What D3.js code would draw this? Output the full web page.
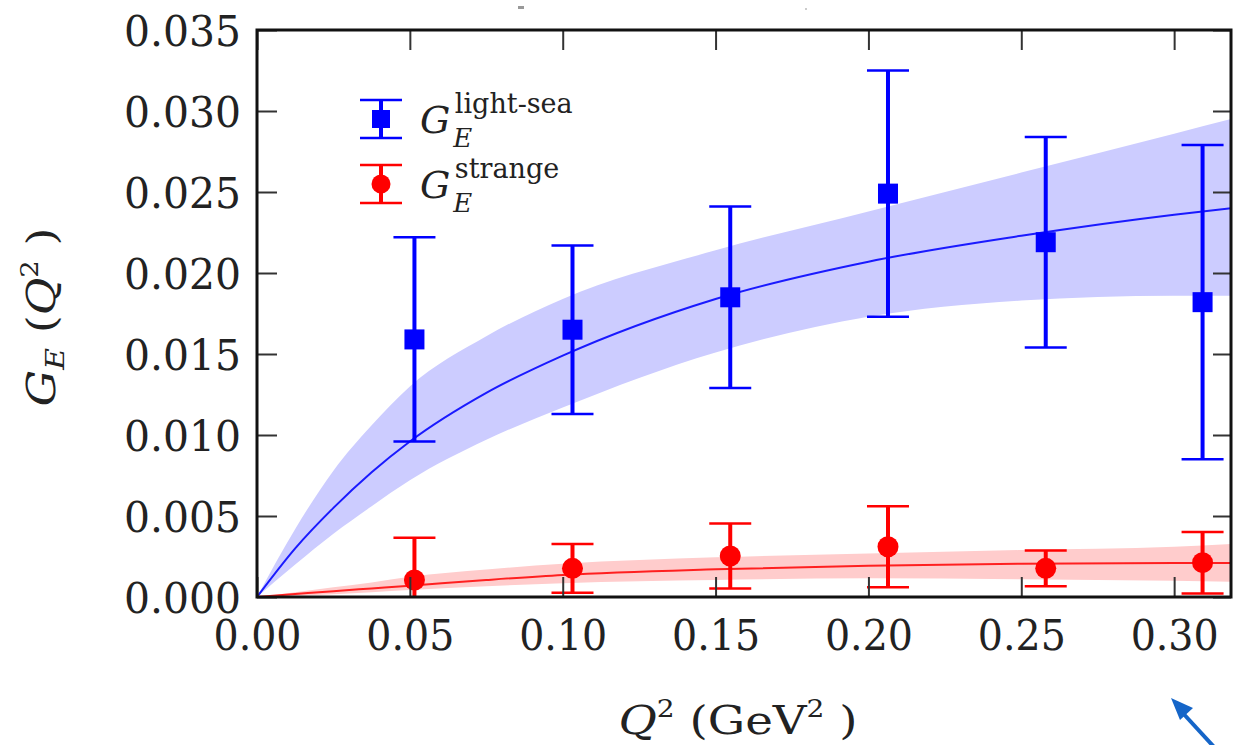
<!DOCTYPE html>
<html><head><meta charset="utf-8">
<script src="https://cdn.jsdelivr.net/npm/d3@7"></script>
<style>
html,body{margin:0;padding:0;background:#fff;}
svg{display:block;}
text{font-family:"DejaVu Serif",serif;fill:#222;}
</style></head>
<body>
<svg id="chart" width="1233" height="745"></svg>
<script>
// ---- data ----
const q2Points = [0.0515, 0.1032, 0.1548, 0.2064, 0.258, 0.3093];
const lightSea = [0.0159, 0.0165, 0.0185, 0.0249, 0.0219, 0.0182];
const lightSeaErr = [0.0063, 0.0052, 0.0056, 0.0076, 0.0065, 0.0097];
const strange = [0.00105, 0.00177, 0.00253, 0.0031, 0.00177, 0.00212];
const strangeErr = [0.0026, 0.0015, 0.002, 0.0025, 0.0011, 0.0019];

const q2Fit = [0, 0.0125, 0.025, 0.0375, 0.05, 0.075, 0.1, 0.15, 0.2, 0.25, 0.3, 0.3186];
const lightFit = [0, 0.0030, 0.0055, 0.0077, 0.0096, 0.0126, 0.0149, 0.0184, 0.0207, 0.0223, 0.0236, 0.0240];
const lightFitHi = [0, 0.0042, 0.0078, 0.0106, 0.0130, 0.0161, 0.0184, 0.0214, 0.0238, 0.0262, 0.0286, 0.0295];
const lightFitLo = [0, 0.0020, 0.0039, 0.0056, 0.0072, 0.0097, 0.0117, 0.0151, 0.0173, 0.0183, 0.0186, 0.0186];
const strangeFit = [0, 0.00018, 0.00036, 0.00053, 0.0007, 0.00105, 0.00136, 0.00171, 0.00193, 0.00206, 0.0021, 0.0021];
const strangeFitHi = [0, 0.0003, 0.0006, 0.0009, 0.00125, 0.0017, 0.00205, 0.00245, 0.00268, 0.0029, 0.0031, 0.00327];
const strangeFitLo = [0, 0.00008, 0.00017, 0.0003, 0.00043, 0.00066, 0.00085, 0.00105, 0.00115, 0.0011, 0.001, 0.00094];

const xTicks = [0, 0.05, 0.10, 0.15, 0.20, 0.25, 0.30];
const yTicks = [0, 0.005, 0.010, 0.015, 0.020, 0.025, 0.030, 0.035];
const xDomain = [0, 0.3186];
const yDomain = [0, 0.035];
const seriesNames = ["light-sea", "strange"];

// ---- layout ----
const L = 257, R = 1231, T = 30, B = 597;
const svg = d3.select("#chart");
const x = d3.scaleLinear().domain(xDomain).range([L, R]);
const y = d3.scaleLinear().domain(yDomain).range([B, T]);

svg.append("defs").append("clipPath").attr("id","clip")
  .append("rect").attr("x",L).attr("y",T).attr("width",R-L).attr("height",B-T);

const plot = svg.append("g").attr("clip-path","url(#clip)");

function band(lo, hi, color) {
  const data = q2Fit.map((q,i)=>({q, lo:lo[i], hi:hi[i]}));
  plot.append("path").datum(data)
    .attr("fill", color).attr("stroke","none")
    .attr("d", d3.area().curve(d3.curveMonotoneX)
      .x(d=>x(d.q)).y0(d=>y(d.lo)).y1(d=>y(d.hi)));
}
function line(vals, color) {
  const data = q2Fit.map((q,i)=>({q, v:vals[i]}));
  plot.append("path").datum(data)
    .attr("fill","none").attr("stroke",color).attr("stroke-width",2)
    .attr("d", d3.line().curve(d3.curveMonotoneX).x(d=>x(d.q)).y(d=>y(d.v)));
}
band(lightFitLo, lightFitHi, "#ccccff");
line(lightFit, "#1a1aff");
band(strangeFitLo, strangeFitHi, "#ffcccc");
line(strangeFit, "#ff2020");

function errorbars(vals, errs, color, shape) {
  const g = plot.append("g");
  q2Points.forEach((q,i)=>{
    const cx = x(q), lo = y(vals[i]-errs[i]), hi = y(vals[i]+errs[i]), cy = y(vals[i]);
    g.append("line").attr("x1",cx).attr("x2",cx).attr("y1",lo).attr("y2",hi)
      .attr("stroke",color).attr("stroke-width",4);
    [lo,hi].forEach(yy=>g.append("line").attr("x1",cx-21).attr("x2",cx+21)
      .attr("y1",yy).attr("y2",yy).attr("stroke",color).attr("stroke-width",2.5));
    if (shape==="square") g.append("rect").attr("x",cx-10).attr("y",cy-10)
      .attr("width",20).attr("height",20).attr("fill",color);
    else g.append("circle").attr("cx",cx).attr("cy",cy).attr("r",10.5).attr("fill",color);
  });
}
errorbars(lightSea, lightSeaErr, "#0000ff", "square");
errorbars(strange, strangeErr, "#ff0000", "circle");

// ---- axes ----
const fmtX = d3.format(".2f"), fmtY = d3.format(".3f");
const ax = svg.append("g").attr("transform",`translate(0,${B})`)
  .call(d3.axisBottom(x).tickValues(xTicks).tickFormat(fmtX).tickSizeInner(-20).tickSizeOuter(0).tickPadding(23));
const ay = svg.append("g").attr("transform",`translate(${L},0)`)
  .call(d3.axisLeft(y).tickValues(yTicks).tickFormat(fmtY).tickSizeInner(-20).tickSizeOuter(0).tickPadding(16));
const axTop = svg.append("g").attr("transform",`translate(0,${T})`)
  .call(d3.axisTop(x).tickValues(xTicks).tickFormat("").tickSizeInner(-20).tickSizeOuter(0));
const ayR = svg.append("g").attr("transform",`translate(${R},0)`)
  .call(d3.axisRight(y).tickValues(yTicks).tickFormat("").tickSizeInner(-18).tickSizeOuter(0));
[ax,ay,axTop,ayR].forEach(a=>{
  a.select(".domain").remove();
  a.selectAll(".tick line").attr("stroke","#333").attr("stroke-width",2);
  a.selectAll(".tick text").attr("font-family","DejaVu Serif").attr("font-size",42).attr("fill","#222")
    .attr("lengthAdjust","spacingAndGlyphs");
});
ax.selectAll(".tick text").attr("textLength",88);
ay.selectAll(".tick text").attr("textLength",117).attr("dy","0.36em");

// frame
svg.append("rect").attr("x",L).attr("y",T).attr("width",R-L).attr("height",B-T)
  .attr("fill","none").attr("stroke","#111").attr("stroke-width",3);

// ---- axis labels ----
const xl = svg.append("text").attr("transform","translate(738,734) scale(1.17,1)")
  .attr("text-anchor","middle").attr("font-size",40);
xl.append("tspan").attr("font-style","italic").text("Q");
xl.append("tspan").attr("font-size",24).attr("dy",-17).text("2");
xl.append("tspan").attr("dy",17).text(" (GeV");
xl.append("tspan").attr("font-size",24).attr("dy",-17).text("2");
xl.append("tspan").attr("dy",17).text(" )");

const yl = svg.append("text").attr("transform","translate(55,317) rotate(-90) scale(1.15,1)")
  .attr("text-anchor","middle").attr("font-size",40);
yl.append("tspan").attr("font-style","italic").text("G");
yl.append("tspan").attr("font-style","italic").attr("font-size",26).attr("dy",9).text("E");
yl.append("tspan").attr("dy",-9).text(" (");
yl.append("tspan").attr("font-style","italic").text("Q");
yl.append("tspan").attr("font-size",24).attr("dy",-17).text("2");
yl.append("tspan").attr("dy",17).text(" )");

// ---- legend ----
const legend = [
  {label:seriesNames[0], color:"#0000ff", shape:"square", cy:119},
  {label:seriesNames[1], color:"#ff0000", shape:"circle", cy:184}
];
legend.forEach(d=>{
  const g = svg.append("g");
  const cx = 381;
  g.append("line").attr("x1",cx).attr("x2",cx).attr("y1",d.cy-19).attr("y2",d.cy+19)
    .attr("stroke",d.color).attr("stroke-width",4);
  [d.cy-19,d.cy+19].forEach(yy=>g.append("line").attr("x1",cx-21).attr("x2",cx+21)
    .attr("y1",yy).attr("y2",yy).attr("stroke",d.color).attr("stroke-width",2.5));
  if (d.shape==="square") g.append("rect").attr("x",cx-9).attr("y",d.cy-9).attr("width",18).attr("height",18).attr("fill",d.color);
  else g.append("circle").attr("cx",cx).attr("cy",d.cy).attr("r",9.5).attr("fill",d.color);
  const t = g.append("text").attr("x",420).attr("y",d.cy+14).attr("font-size",38);
  t.append("tspan").attr("font-style","italic").text("G");
  t.append("tspan").attr("font-style","italic").attr("font-size",26).attr("dx",3).attr("dy",14).text("E");
  t.append("tspan").attr("font-size",27).attr("dx",-17.5).attr("dy",-34).text(d.label);
});

// ---- small artefacts at top ----
svg.append("rect").attr("x",518).attr("y",6).attr("width",6).attr("height",3).attr("fill","#999");
svg.append("rect").attr("x",805).attr("y",8).attr("width",2).attr("height",2).attr("fill","#ccc");

// ---- annotation arrow ----
const arrowCol = "#1565c8";
svg.append("line").attr("x1",1215).attr("y1",748).attr("x2",1180).attr("y2",710)
  .attr("stroke",arrowCol).attr("stroke-width",4);
svg.append("path").attr("d","M1171,698 L1193,708 L1180,720 Z").attr("fill",arrowCol);
</script>
</body></html>
